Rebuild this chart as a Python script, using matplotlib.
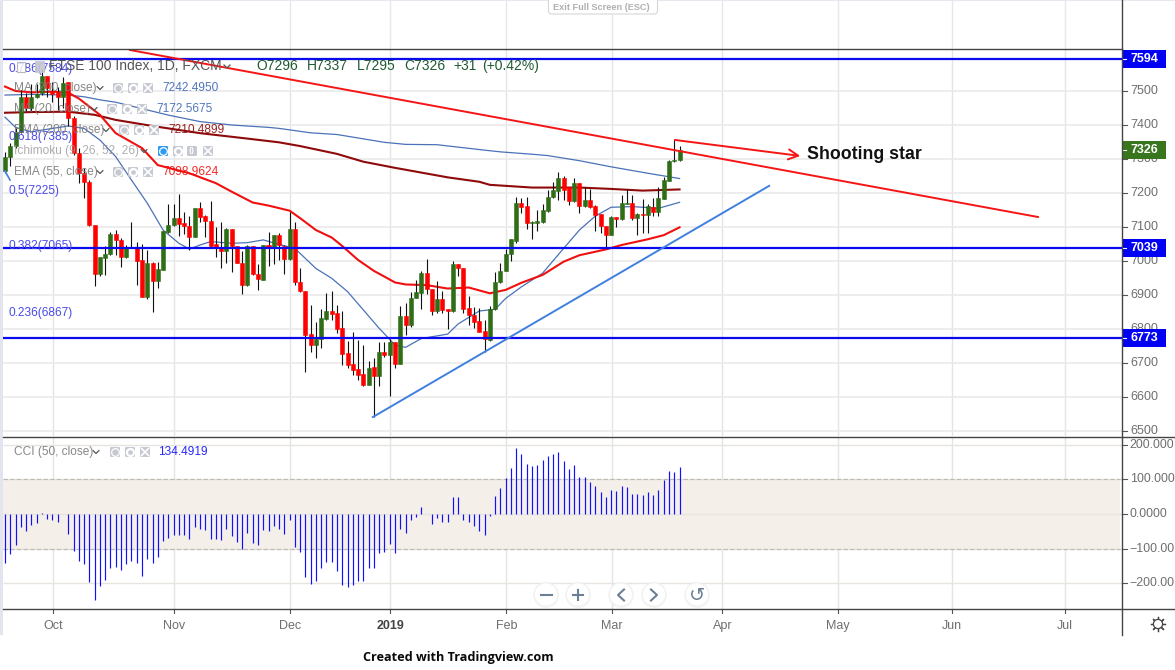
import matplotlib
matplotlib.use('Agg')
import matplotlib.pyplot as plt
from matplotlib.patches import Rectangle, FancyBboxPatch, Circle

# ---------- data ----------
opens = [7266,7305,7338,7380,7483,7449,7483,7493,7544,7500,7498,7483,7525,7420,7319,7260,7233,7106,6962,7009,
         7021,7079,7062,7013,7037,7042,7003,6893,6995,6940,6974,7086,7106,7125,7112,7103,7072,7155,7131,7119,
         7050,7040,7028,7094,7044,6995,6928,7045,6961,6945,7047,7038,7076,7045,7006,7094,6938,6913,6784,6753,
         6770,6828,6854,6846,6802,6728,6696,6681,6667,6635,6687,6663,6732,6723,6763,6697,6838,6812,6891,6907,
         6965,6918,6854,6887,6859,6852,6991,6980,6862,6842,6823,6794,6768,6858,6937,6971,7020,7060,7171,7162,
         7113,7113,7115,7148,7187,7206,7243,7218,7176,7228,7162,7179,7162,7137,7104,7075,7130,7123,7169,7171,
         7127,7138,7136,7160,7145,7182,7236,7294,7296]
highs = [7322,7346,7390,7503,7495,7520,7522,7566,7544,7527,7512,7542,7525,7425,7331,7273,7238,7106,7013,7044,
         7084,7091,7067,7047,7114,7057,7050,7031,6998,6998,7088,7168,7168,7196,7145,7131,7155,7173,7136,7176,
         7101,7114,7096,7094,7044,7028,7047,7045,6991,7047,7086,7077,7082,7047,7143,7116,6979,6913,6870,6820,
         6859,6905,6913,6870,6853,6766,6792,6768,6753,6707,6716,6761,6763,6772,6763,6868,6877,6908,6944,6971,
         7006,6918,6941,6913,6859,7001,6991,6980,6898,6864,6861,6826,6869,6969,6993,7035,7066,7189,7184,7189,
         7117,7150,7169,7209,7233,7261,7250,7218,7243,7228,7218,7213,7165,7137,7104,7132,7130,7194,7213,7194,
         7140,7181,7169,7184,7218,7246,7297,7356,7337]
lows = [7258,7280,7331,7376,7440,7440,7480,7488,7483,7468,7444,7449,7397,7312,7229,7185,7103,6925,6956,6959,
        7018,7018,6981,7008,7037,6930,6893,6888,6851,6920,6974,7082,7103,7074,7080,7033,7070,7116,7072,7040,
        7013,6979,6993,6969,6993,6903,6925,6959,6915,6945,6984,6991,7003,6961,7003,6930,6910,6675,6733,6714,
        6743,6826,6826,6789,6694,6684,6665,6650,6632,6635,6542,6633,6719,6604,6684,6697,6782,6807,6890,6859,
        6903,6841,6846,6848,6800,6851,6956,6848,6812,6802,6792,6731,6766,6856,6936,6970,7001,7054,7142,7093,
        7066,7088,7113,7145,7184,7179,7179,7164,7174,7142,7158,7155,7089,7081,7042,7075,7099,7122,7167,7122,
        7076,7081,7081,7132,7132,7181,7236,7292,7295]
closes = [7307,7338,7380,7483,7449,7483,7490,7544,7508,7490,7483,7524,7420,7319,7260,7231,7105,6962,7011,7021,
          7079,7062,7013,7037,7042,7001,6893,6995,6940,6976,7088,7106,7125,7109,7103,7072,7155,7129,7119,7044,
          7038,7028,7094,7044,6995,6928,7045,6961,6946,7047,7039,7076,7047,7006,7094,6938,6913,6782,6753,6770,
          6831,6854,6844,6800,6727,6695,6679,6665,6635,6686,6663,6732,6723,6763,6697,6838,6813,6892,6909,6965,
          6917,6854,6887,6856,6852,6991,6978,6860,6842,6821,6792,6771,6858,6937,6971,7020,7064,7171,7158,7113,
          7116,7118,7150,7189,7209,7243,7209,7176,7228,7163,7179,7160,7136,7103,7076,7130,7123,7171,7171,7127,
          7138,7136,7162,7145,7184,7238,7295,7297,7326]
cci = [-142,-116,-89,-37,-49,-32,-25,3,-15,-18,-24,0,-57,-106,-136,-144,-198,-248,-208,-190,
       -155,-153,-162,-144,-136,-142,-178,-129,-142,-125,-78,-68,-61,-61,-61,-71,-37,-43,-46,-71,
       -71,-74,-43,-63,-80,-101,-54,-84,-89,-46,-49,-34,-43,-59,-18,-94,-109,-183,-203,-195,
       -155,-138,-138,-164,-206,-212,-206,-195,-195,-155,-155,-112,-109,-87,-112,-43,-54,-17,-9,20,
       0,-29,-13,-23,-23,50,48,-17,-23,-35,-49,-61,-5,52,75,104,134,191,174,144,
       138,141,156,169,174,179,154,129,141,106,106,93,81,63,50,68,65,81,78,58,
       58,55,63,55,70,99,124,121,134.49]

ma200_x = [0,5,12,15,18,21,31,37,43,50,52,58,63,72,76,82,91,94,100,103,109,115,122,128]
ma200_y = [7488,7490,7488,7483,7474,7467,7429,7410,7400,7393,7390,7377,7372,7349,7343,7342,7326,7321,7314,7310,7295,7277,7258,7242.5]
ema200_x = [0,5,12,17,21,28,37,46,52,56,63,68,74,84,90,92,100,109,115,121,128]
ema200_y = [7436,7438,7439,7430,7415,7397,7376,7360,7349,7338,7315,7292,7274,7246,7233,7224,7216,7216,7212,7207,7210.5]
ema55_x = [0,2,5,9,12,14,18,21,26,29,35,40,43,47,50,54,56,59,62,64,67,70,74,76,80,84,88,92,95,98,102,106,109,114,117,122,125,128]
ema55_y = [7513,7500,7496,7498,7495,7478,7430,7376,7332,7282,7258,7229,7204,7172,7163,7148,7126,7091,7069,7044,7003,6971,6937,6931,6929,6919,6922,6905,6915,6936,6959,6998,7017,7034,7047,7064,7076,7099]
ma20_x = [0,2,5,9,12,15,18,21,24,27,30,33,35,37,39,43,46,49,52,55,59,62,65,68,71,74,76,79,84,86,88,90,93,95,98,102,106,109,112,115,119,124,128]
ma20_y = [7423,7393,7380,7390,7397,7390,7356,7307,7238,7170,7091,7052,7035,7047,7057,7052,7054,7062,7049,7037,6978,6949,6910,6856,6802,6753,6746,6772,6785,6815,6834,6853,6858,6890,6924,6964,7037,7091,7132,7158,7160,7155,7172.6]

hlevels = [7594, 7039, 6773]
last_close = 7326
price_ticks = [6500,6600,6700,6800,6900,7000,7100,7200,7300,7400,7500]
cci_ticks = [200,100,0,-100,-200]
cci_tick_labels = ['200.000','100.000','0.0000','\u2212100.00','\u2212200.00']
month_pos = [9.17,32.13,54.14,73.11,95.12,115.12,136.11,158.06,179.7,201.14]
month_labels = ['Oct','Nov','Dec','2019','Feb','Mar','Apr','May','Jun','Jul']
fib_levels = [7584,7385,7225,7065,6867]
fib_labels = ['0.786(7584)','0.618(7385)','0.5(7225)','0.382(7065)','0.236(6867)']
down_line_x = [23.7,196.0]; down_line_y = [7620.6,7129.4]
up_line_x = [69.8,145.0];   up_line_y = [6541,7221]
star_x = [127.1,150.9];     star_y = [7356,7309]

# ---------- layout ----------
W,H = 1175,670
LEFT,RIGHT = 3,1122
SANS = 'Liberation Sans'
plt.rcParams['font.family'] = [SANS,'DejaVu Sans']
fig = plt.figure(figsize=(W/100,H/100),dpi=100,facecolor='white')
def pane(top,bottom):
    return fig.add_axes([LEFT/W,1-bottom/H,(RIGHT-LEFT)/W,(bottom-top)/H])
ax = pane(49,436)
ax2 = pane(437,609)
xlim = ((LEFT-5)/5.27,(RIGHT-5)/5.27)
for a in (ax,ax2):
    a.set_xlim(*xlim)
    a.patch.set_alpha(0)
    for s in a.spines.values(): s.set_visible(False)
    a.set_xticks([]); a.set_yticks([])
    a.vlines(month_pos,0,1,transform=a.get_xaxis_transform(),color='#e4e4e4',lw=1.0,zorder=0)
ax.set_ylim(6485.3,7623.5)
ax2.set_ylim(-274.6,222.5)
ax.vlines(month_pos,1,1+49/387,transform=ax.get_xaxis_transform(),color='#e8e8e8',lw=1.0,clip_on=False,zorder=0)
ax.hlines(price_ticks,0,1,transform=ax.get_yaxis_transform(),color='#eaeaea',lw=1.2,zorder=0)

# ---------- lines under candles ----------
ax.plot(ma200_x,ma200_y,color='#4a72b8',lw=0.9,zorder=2)
ax.plot(ma20_x,ma20_y,color='#4a72b8',lw=0.9,zorder=2)
ax.plot(ema200_x,ema200_y,color='#8f0a0a',lw=1.5,zorder=2)
ax.plot(ema55_x,ema55_y,color='#f01010',lw=1.5,zorder=2)

# ---------- candles ----------
idx = list(range(len(closes)))
ccol = ['#2f6e17' if c>=o else '#ff0000' for o,c in zip(opens,closes)]
ax.vlines(idx,lows,highs,color='#111111',lw=0.8,zorder=3)
ax.bar(idx,[abs(c-o) for o,c in zip(opens,closes)],bottom=[min(o,c) for o,c in zip(opens,closes)],
       width=0.76,color=ccol,edgecolor=ccol,linewidth=0.4,zorder=4)

# ---------- drawings ----------
ax.hlines(hlevels,0,1,transform=ax.get_yaxis_transform(),color='#0a0aef',lw=1.6,zorder=5)
ax.plot(down_line_x,down_line_y,color='#f51515',lw=1.4,zorder=5,clip_on=False)
ax.plot(up_line_x,up_line_y,color='#3f80e0',lw=1.4,zorder=5)
ax.annotate('',xy=(star_x[1],star_y[1]),xytext=(star_x[0],star_y[0]),
            arrowprops=dict(arrowstyle='->,head_length=0.7,head_width=0.36',color='#f51515',lw=1.4,shrinkA=0,shrinkB=0),zorder=6)
ax.text(152.2,7314,'Shooting star',fontsize=12.8,fontweight='bold',color='#111111',va='center',ha='left',family=SANS,zorder=7)
for lev,lab in zip(fib_levels,fib_labels):
    ax.annotate(lab,xy=(0,lev),xycoords=('axes fraction','data'),xytext=(4.3,-4.8),textcoords='offset points',
                fontsize=8.6,color='#4a4ae8',ha='left',va='center',zorder=6)

# ---------- CCI ----------
ax2.axhspan(-100,100,xmin=0,xmax=0.9985,color='#f4efe8',lw=0,zorder=0)
ax2.hlines(cci_ticks,0,1,transform=ax2.get_yaxis_transform(),color='#e8e5e0',lw=1.0,zorder=1)
ax2.hlines([100,-100],0,0.9985,transform=ax2.get_yaxis_transform(),color='#bdbab4',lw=0.8,linestyles=(0,(4,2)),zorder=1)
ax2.vlines(idx,0,cci,color='#1010ff',lw=0.85,zorder=3)

# ---------- axis labels ----------
GRAY='#6f6f6f'
for t in price_ticks:
    ax.annotate(str(t),xy=(1,t),xycoords=('axes fraction','data'),xytext=(5.8,0),textcoords='offset points',
                fontsize=9,color=GRAY,va='center',ha='left',annotation_clip=False)
    ax.plot([1,1+5/1119],[t,t],transform=ax.get_yaxis_transform(),color='#555555',lw=0.8,clip_on=False)
for t,l in zip(cci_ticks,cci_tick_labels):
    ax2.annotate(l,xy=(1,t),xycoords=('axes fraction','data'),xytext=(5.6,0),textcoords='offset points',
                 fontsize=8.9,color=GRAY,va='center',ha='left',annotation_clip=False)
    ax2.plot([1,1+5/1119],[t,t],transform=ax2.get_yaxis_transform(),color='#555555',lw=0.8,clip_on=False)
for p,l in zip(month_pos,month_labels):
    bold = l=='2019'
    ax2.annotate(l,xy=(p,0),xycoords=('data','axes fraction'),xytext=(0,-12.3),textcoords='offset points',
                 fontsize=9,color='#444444' if bold else GRAY,fontweight='bold' if bold else 'normal',ha='center',va='center',annotation_clip=False)
    ax2.plot([p,p],[0,-4/172],transform=ax2.get_xaxis_transform(),color='#555555',lw=0.8,clip_on=False)

# price tags
for val,col in [(7594,'#0000f5'),(7039,'#0000f5'),(6773,'#0000f5'),(last_close,'#38761d')]:
    ax.add_patch(Rectangle((1,val-26),44/1119,52,transform=ax.get_yaxis_transform(),facecolor=col,edgecolor='none',clip_on=False,zorder=8))
    ax.plot([1,1+4/1119],[val,val],transform=ax.get_yaxis_transform(),color='white',lw=0.8,clip_on=False,zorder=9)
    ax.annotate(str(val),xy=(1,val),xycoords=('axes fraction','data'),xytext=(5.8,0),textcoords='offset points',
                fontsize=9,fontweight='bold',color='white',va='center',ha='left',annotation_clip=False,zorder=9)

# ---------- chrome overlay in pixel coordinates ----------
ov = fig.add_axes([0,0,1,1],zorder=10)
ov.set_xlim(0,W); ov.set_ylim(H,0); ov.axis('off'); ov.patch.set_alpha(0)
ov.add_patch(Rectangle((0,0),LEFT,635,facecolor='#e2e5ef',edgecolor='none'))
ov.add_patch(Rectangle((0,0),W,1.2,facecolor='#e6e8f0',edgecolor='none'))
DARK='#444444'
ov.plot([LEFT,RIGHT],[49,49],color=DARK,lw=1.0)
ov.plot([LEFT,W],[436.5,436.5],color=DARK,lw=1.0)
ov.plot([LEFT,W],[609,609],color=DARK,lw=1.0)
ov.plot([RIGHT,RIGHT],[0,635],color=DARK,lw=1.0)

ov.add_patch(FancyBboxPatch((548.5,-4),109,18,boxstyle='round,pad=0,rounding_size=3',facecolor='white',edgecolor='#d6d6d6',lw=0.8))
ov.text(601,7,'Exit Full Screen (ESC)',fontsize=6.6,color='#b0b0b0',ha='center',va='center',fontweight='bold')

def chevron(x,y):
    ov.plot([x-3,x,x+3],[y-1.5,y+1.5,y-1.5],color='#555555',lw=0.9,solid_capstyle='round')
def icon(x,y,kind):
    ov.add_patch(FancyBboxPatch((x-5,y-5),10,10,boxstyle='round,pad=0,rounding_size=1.2',
                                facecolor='#2196f3' if kind=='off' else '#c3c6d0',edgecolor='none',alpha=0.95))
    if kind=='x':
        ov.plot([x],[y],marker='x',ms=6,mew=1.2,color='white')
    elif kind=='eye' or kind=='off':
        ov.plot([x],[y],marker='o',ms=5.5,mfc='none',mew=0.9,color='white')
    elif kind=='gear':
        ov.plot([x],[y],marker='o',ms=5,mfc='none',mew=1.6,color='white')
    else:
        ov.text(x,y,'{}',fontsize=5.5,color='white',ha='center',va='center',fontweight='bold')
LEG='#7a7a7a'
legends = [(88,'MA (200, close)',100,[118,133,148],'7242.4950','#3e67b5',162),
           (109,'MA (20, close)',94,[112,127,142],'7172.5675','#3e67b5',156),
           (130,'EMA (200, close)',106,[124,139,154],'7210.4899','#8f0a0a',168),
           (172,'EMA (55, close)',100,[118,133,148],'7098.9624','#f01010',162),
           (452,'CCI (50, close)',96,[115,130,145],'134.4919','#1010ff',158)]
for y,lab,cx,ic,val,col,vx in legends:
    ov.text(14,y,lab,fontsize=8.6,color=LEG,va='center',ha='left',alpha=0.9)
    chevron(cx,y)
    for xi,k in zip(ic,['eye','gear','x']): icon(xi,y,k)
    ov.text(vx,y,val,fontsize=8.6,color=col,va='center',ha='left',alpha=0.9)
ov.text(14,151,'Ichimoku (9, 26, 52, 26)',fontsize=8.6,color='#9a9a9a',va='center',ha='left',alpha=0.8)
chevron(144,151)
for xi,k in zip([163,178,192,208],['off','gear','br','x']): icon(xi,151,k)

ov.plot([5,10],[171,180],color='#3f80e0',lw=1.2)
ov.add_patch(Rectangle((16.5,61.5),8.5,10,facecolor='white',edgecolor='#a8a8a8',lw=0.8,alpha=0.8))
ov.add_patch(Rectangle((35,61),10,12,facecolor='#c3c6d0',edgecolor='none',alpha=0.9))
ov.text(49,66,'FTSE 100 Index, 1D, FXCM',fontsize=10,color='#555555',va='center',ha='left')
ov.plot([224,227,230],[65,68,65],color='#555555',lw=0.9)
for x,s in [(256,'O7296'),(307,'H7337'),(357,'L7295'),(404,'C7326'),(453,'+31'),(482,'(+0.42%)')]:
    ov.text(x,66,s,fontsize=10,color='#1f5a33',va='center',ha='left')

# zoom buttons
BTN='#6d7f94'
for x in [546,578,621,654,697]:
    ov.add_patch(Circle((x,595),13,facecolor='#eeeeee',edgecolor='none',alpha=0.6))
    ov.add_patch(Circle((x,594.5),11.5,facecolor='white',edgecolor='#f0f0f0',lw=0.5))
ov.plot([541,552],[595,595],color=BTN,lw=1.5)
ov.plot([573,583],[595,595],color=BTN,lw=1.5)
ov.plot([578,578],[590,600],color=BTN,lw=1.5)
ov.plot([624,618,624],[589.5,595,600.5],color=BTN,lw=1.5)
ov.plot([651,657,651],[589.5,595,600.5],color=BTN,lw=1.5)
ov.text(697,595,'\u21ba',fontsize=14,color=BTN,ha='center',va='center',family='DejaVu Sans')

# settings gear
ov.plot([1158],[624],marker=(8,2,0),ms=11,mew=0.9,color='#444444')
ov.add_patch(Circle((1158,624),4.6,facecolor='white',edgecolor='#444444',lw=0.9,zorder=5))

ov.text(363,658,'Created with Tradingview.com',fontsize=9.1,fontweight='bold',color='#0a0a0a',va='center',ha='left',family='Open Sans')

fig.savefig('out.png',dpi=100,facecolor='white')
